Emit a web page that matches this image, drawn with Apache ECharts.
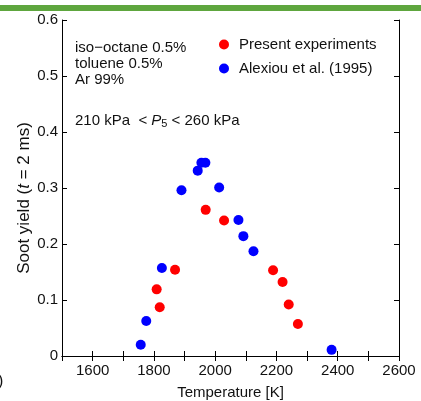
<!DOCTYPE html>
<html>
<head>
<meta charset="utf-8">
<script src="https://cdn.jsdelivr.net/npm/echarts@6/dist/echarts.min.js"></script>
<style>
  html, body { margin: 0; padding: 0; background: #fff; }
  #chart { width: 421px; height: 401px; }
</style>
</head>
<body>
<div id="chart"></div>
<script>
// temperature [K], soot yield
const presentT = [1809, 1819, 1869, 1969, 2029, 2189, 2220, 2240, 2270];
const presentY = [0.119, 0.087, 0.154, 0.261, 0.242, 0.153, 0.132, 0.092, 0.057];
const alexiouT = [1757, 1775, 1826, 1890, 1943, 1955, 1968, 2013, 2076, 2092, 2125, 2380];
const alexiouY = [0.020, 0.0625, 0.157, 0.296, 0.331, 0.345, 0.345, 0.301, 0.243, 0.214, 0.187, 0.011];
const seriesNames = ['Present experiments', 'Alexiou et al. (1995)'];
const mixtureLines = ['iso\u2212octane 0.5%', 'toluene 0.5%', 'Ar 99%'];

const font = 'Liberation Sans, Arial, sans-serif';
const pairs = (xs, ys) => xs.map((x, i) => [x, ys[i]]);

let chart = echarts.init(document.getElementById('chart'));

const tickIn = { show: true, inside: true, length: 5, lineStyle: { color: '#000' } };
const lineBlack = { show: true, lineStyle: { color: '#000', width: 1 } };

var option = {
    animation: false,
    textStyle: { fontFamily: font },
    grid: { left: 62, top: 20, right: 22, bottom: 45, outerBoundsMode: 'none', containLabel: false },
    legend: {
        orient: 'vertical',
        left: 214,
        top: 32,
        itemWidth: 10,
        itemHeight: 10,
        itemGap: 9,
        icon: 'circle',
        textStyle: { fontSize: 15, color: '#111', fontFamily: font, padding: [0, 0, 0, 5] },
        data: seriesNames
    },
    xAxis: [
        {
            type: 'value', min: 1500, max: 2600, interval: 100,
            name: 'Temperature [K]', nameLocation: 'middle', nameGap: 29, nameMoveOverlap: false,
            nameTextStyle: { fontSize: 15, color: '#111' },
            axisLine: lineBlack, axisTick: tickIn, splitLine: { show: false },
            axisLabel: {
                fontSize: 15, color: '#111', margin: 7,
                formatter: v => (v % 200 === 0 ? String(v) : '')
            }
        },
        {
            type: 'value', position: 'top', min: 1500, max: 2600, interval: 100,
            axisLine: lineBlack, axisTick: tickIn, axisLabel: { show: false }, splitLine: { show: false }
        }
    ],
    yAxis: [
        {
            type: 'value', min: 0, max: 0.6, interval: 0.1,
            name: '{a|Soot yield (}{i|t}{a| = 2 ms)}', nameLocation: 'middle', nameGap: 29,
            nameMoveOverlap: false,
            nameTextStyle: {
                padding: [0, 20, 0, 0],
                rich: {
                    a: { fontSize: 17, color: '#111', fontFamily: font },
                    i: { fontSize: 17, color: '#111', fontFamily: font, fontStyle: 'italic' }
                }
            },
            axisLine: lineBlack, axisTick: tickIn, splitLine: { show: false },
            axisLabel: {
                fontSize: 15, color: '#111', margin: 4,
                formatter: v => (v === 0 ? '0' : v.toFixed(1))
            }
        },
        {
            type: 'value', position: 'right', min: 0, max: 0.6, interval: 0.1,
            axisLine: lineBlack, axisTick: tickIn, axisLabel: { show: false }, splitLine: { show: false }
        }
    ],
    graphic: [
        { type: 'rect', left: 0, top: 5, shape: { width: 421, height: 6 }, style: { fill: '#5ea63e' } },
        {
            type: 'text', left: 75, top: 40,
            style: { text: mixtureLines.join('\n'), font: '15px ' + font, fill: '#111', lineHeight: 16 }
        },
        {
            type: 'text', left: 75, top: 113,
            style: {
                text: '210 kPa  < {i|P}{s|5} < 260 kPa',
                font: '15px ' + font, fill: '#111',
                rich: {
                    i: { fontStyle: 'italic', fontSize: 15, fontFamily: font, fill: '#111' },
                    s: { fontSize: 11, fontFamily: font, fill: '#111', verticalAlign: 'bottom', padding: [6, 0, 0, 0] }
                }
            }
        },
        { type: 'text', left: -2, top: 374, style: { text: ')', font: '16px ' + font, fill: '#111' } }
    ],
    series: [
        {
            name: seriesNames[0], type: 'scatter', symbolSize: 10,
            itemStyle: { color: '#ff0000', opacity: 1 },
            data: pairs(presentT, presentY)
        },
        {
            name: seriesNames[1], type: 'scatter', symbolSize: 10,
            itemStyle: { color: '#0000ff', opacity: 1 },
            data: pairs(alexiouT, alexiouY)
        }
    ]
};

chart.setOption(option);
</script>
</body>
</html>
